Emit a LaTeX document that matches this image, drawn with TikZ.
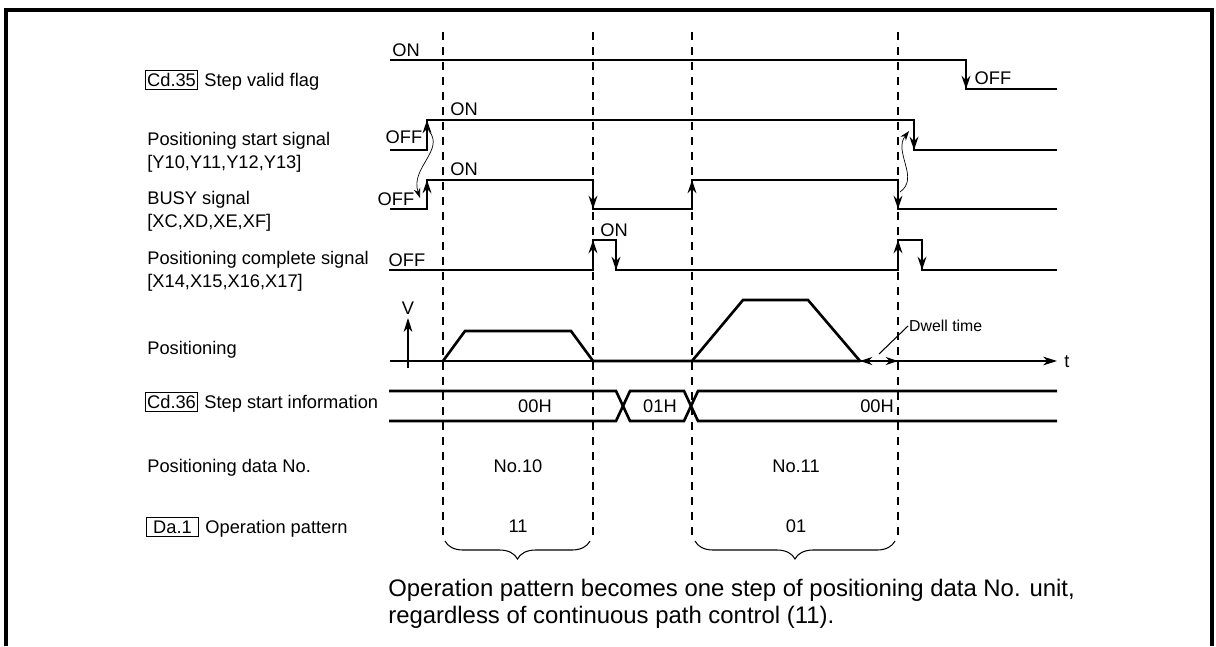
\documentclass[tikz,border=0pt]{standalone}
\usepackage{fontspec}
\setmainfont{Liberation Sans}
\usetikzlibrary{arrows.meta,positioning,decorations.pathreplacing}

\begin{document}
\begin{tikzpicture}[x=0.2mm,y=-0.2mm,line join=miter,
  font=\fontsize{10.4}{13}\selectfont,
  rowlbl/.style={anchor=west,inner sep=0pt,align=left,text depth=0pt},
  regbox/.style={draw,line width=0.6pt,anchor=west,inner sep=0pt,text depth=0pt,
    minimum width=10.4mm,minimum height=3.8mm},
  lvtxt/.style={inner sep=0pt,text depth=0pt},
  sig/.style={line width=1.5pt},
  risefall/.style={line width=1.5pt,-{Stealth[length=7.5pt,width=5pt]}},
  cutline/.style={line width=0.6pt,dash pattern=on 1.6mm off 1.4mm},
  thinl/.style={line width=0.6pt},
  axis/.style={line width=0.6pt,-{Stealth[length=8pt,width=5pt]}},
  cause/.style={line width=0.4pt,-{Stealth[length=5.5pt,width=3.8pt]}},
  brc/.style={line width=0.6pt,decorate,decoration={brace,mirror,amplitude=3.6mm}},
  frame/.style={line width=2.3pt}]
\path[use as bounding box] (0,0) rectangle (1216,646);
\draw[frame] (6,646) -- (6,10) -- (1212,10) -- (1212,646);
% row labels
\node[regbox] (cd35) at (145,80) {Cd.35};
\node[rowlbl,right=1.2mm of cd35] (lflag) {Step valid flag};
\node[rowlbl] (lstart) at (147,150.5) {Positioning start signal\\{[Y10,Y11,Y12,Y13]}};
\node[rowlbl] (lbusy) at (147,209) {BUSY signal\\{[XC,XD,XE,XF]}};
\node[rowlbl] (ldone) at (147,269.5) {Positioning complete signal\\{[X14,X15,X16,X17]}};
\node[rowlbl] (lpos) at (147,348) {Positioning};
\node[regbox] (cd36) at (145,402) {Cd.36};
\node[rowlbl,right=1.2mm of cd36] (linfo) {Step start information};
\node[rowlbl] (ldata) at (147,466) {Positioning data No.};
\node[regbox] (da1) at (146,527) {Da.1};
\node[rowlbl,right=1.2mm of da1] (lpat) {Operation pattern};
% time marks
\draw[cutline] (443,32) -- (443,541);
\draw[cutline] (593,32) -- (593,541);
\draw[cutline] (692,32) -- (692,541);
\draw[cutline] (898,32) -- (898,541);
% step valid flag
\draw[sig] (390,60) -- (966,60) |- (1057,89);
\draw[risefall] (966,60) -- (966,89);
\node[lvtxt] (flagon) at (406,50) {ON};
\node[lvtxt] (flagoff) at (993,78) {OFF};
% start signal
\draw[sig] (390,150) -- (427,150) |- (914,120) |- (1057,150);
\draw[risefall] (427,150) -- (427,120);
\draw[risefall] (914,120) -- (914,150);
\node[lvtxt] (startoff) at (404,137) {OFF};
\node[lvtxt] (starton) at (464,109) {ON};
% busy signal
\draw[sig] (390,209) -- (427,209) |- (593,180) |- (692,209) |- (898,180) |- (1057,209);
\draw[risefall] (427,209) -- (427,180);
\draw[risefall] (593,180) -- (593,209);
\draw[risefall] (692,209) -- (692,180);
\draw[risefall] (898,180) -- (898,209);
\node[lvtxt] (busyoff) at (396,199) {OFF};
\node[lvtxt] (busyon) at (464,169) {ON};
\coordinate (sOn) at (429,131);
\coordinate (bOn) at (420,198);
\draw[cause] (sOn) .. controls (445,150) and (410,168) .. (bOn);
\coordinate (bOff) at (900,192);
\coordinate (sOff) at (909,131);
\draw[cause] (bOff) .. controls (920,178) and (893,152) .. (sOff);
% complete signal
\draw[sig] (389,270) -- (593,270) |- (616,240) |- (898,270) |- (922,240) |- (1057,270);
\draw[risefall] (593,270) -- (593,240);
\draw[risefall] (616,240) -- (616,270);
\draw[risefall] (898,270) -- (898,240);
\draw[risefall] (922,240) -- (922,270);
\node[lvtxt] (doneoff) at (407,260) {OFF};
\node[lvtxt] (doneon) at (614,230) {ON};
% speed profile
\draw[axis] (390,361) -- (1057,361);
\node[lvtxt] (tlbl) at (1067,362) {t};
\draw[axis] (408,368) -- (408,318);
\node[lvtxt] (vlbl) at (408,308) {V};
\draw[sig] (443,361) -- (465,331) -- (571,331) -- (593,361) -- (860,361);
\draw[sig] (692,361) -- (743,300) -- (808,300) -- (860,361);
\draw[thinl,{Stealth[length=7pt,width=4.6pt]}-{Stealth[length=7pt,width=4.6pt]}] (860,361) -- (898,361);
\node[lvtxt,anchor=west,inner sep=0.5pt,font=\fontsize{9}{11}\selectfont] (dwell) at (908,326) {Dwell time};
\draw[thinl] (879,354) -- (dwell.west);
% step start information
\draw[sig] (389,391) -- (616,391) -- (630,421) -- (684,421) -- (698,391) -- (1057,391);
\draw[sig] (389,421) -- (616,421) -- (630,391) -- (684,391) -- (698,421) -- (1057,421);
\node[lvtxt] (inf1) at (535,406) {00H};
\node[lvtxt] (inf2) at (660,406) {01H};
\node[lvtxt] (inf3) at (877,406) {00H};
% data no. and pattern
\node[lvtxt] (no10) at (518,466) {No.10};
\node[lvtxt] (no11) at (796,466) {No.11};
\node[lvtxt] (pat1) at (518,526) {11};
\node[lvtxt] (pat2) at (796,526) {01};
\draw[brc] (445,541) -- (590,541);
\draw[brc] (695,541) -- (895,541);
\node[lvtxt,anchor=west,align=left,font=\fontsize{13.6}{15.5}\selectfont] (note) at (388,601)
  {Operation pattern becomes one step of positioning data No. unit,\\regardless of continuous path control (11).};
\end{tikzpicture}
\end{document}
